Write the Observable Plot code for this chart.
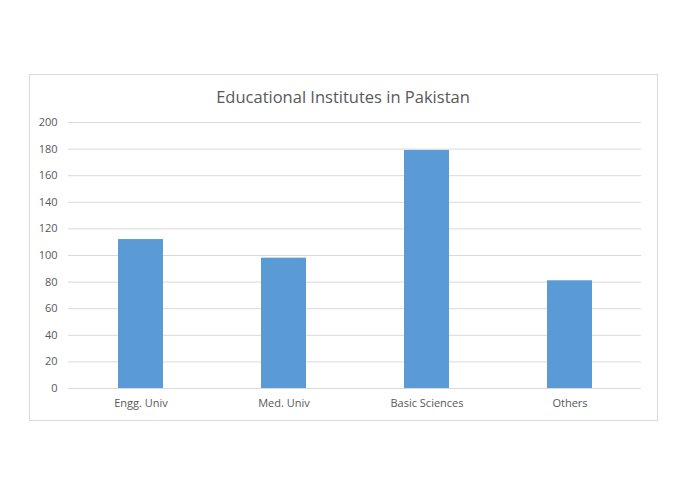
<!DOCTYPE html>
<html>
<head>
<meta charset="utf-8">
<script src="https://cdn.jsdelivr.net/npm/d3@7"></script>
<script src="https://cdn.jsdelivr.net/npm/@observablehq/plot@0.6"></script>
<style>
  html, body { margin: 0; padding: 0; background: #fff; }
  #wrap { position: relative; width: 695px; height: 494px; overflow: hidden; }
  #frame { position: absolute; left: 29px; top: 74px; width: 627px; height: 345px; border: 1px solid #d9d9d9; box-sizing: content-box; }
  #title { position: absolute; left: 0; width: 686px; top: 85px; text-align: center; font-family: "Open Sans", sans-serif; font-size: 16.5px; color: #595959; }
  #chart { position: absolute; left: 0; top: 0; }
</style>
</head>
<body>
<div id="wrap">
  <div id="frame"></div>
  <div id="title">Educational Institutes in Pakistan</div>
  <div id="chart"></div>
</div>
<script>
const categories = ["Engg. Univ", "Med. Univ", "Basic Sciences", "Others"];
const values = [112, 98, 179, 81];
const yTicks = [0, 20, 40, 60, 80, 100, 120, 140, 160, 180, 200];

const data = categories.map((c, i) => ({category: c, value: values[i]}));

const chart = Plot.plot({
  width: 695,
  height: 494,
  marginLeft: 68,
  marginRight: 54,
  marginTop: 122,
  marginBottom: 106,
  style: { fontFamily: "Open Sans, sans-serif", fontSize: "11px", color: "#595959", background: "transparent" },
  x: { domain: categories, paddingInner: 0.687, paddingOuter: 0.3435, label: null },
  y: { domain: [0, 200], label: null },
  marks: [
    Plot.ruleY(yTicks, { stroke: "#d9d9d9", strokeWidth: 1 }),
    Plot.barY(data, { x: "category", y: "value", fill: "#5b9bd5" }),
    Plot.axisX({ tickSize: 0, tickPadding: 11, label: null, fill: "#595959" }),
    Plot.axisY({ ticks: yTicks, tickSize: 0, tickPadding: 11, label: null, fill: "#595959" })
  ]
});
document.getElementById("chart").appendChild(chart);
</script>
</body>
</html>
